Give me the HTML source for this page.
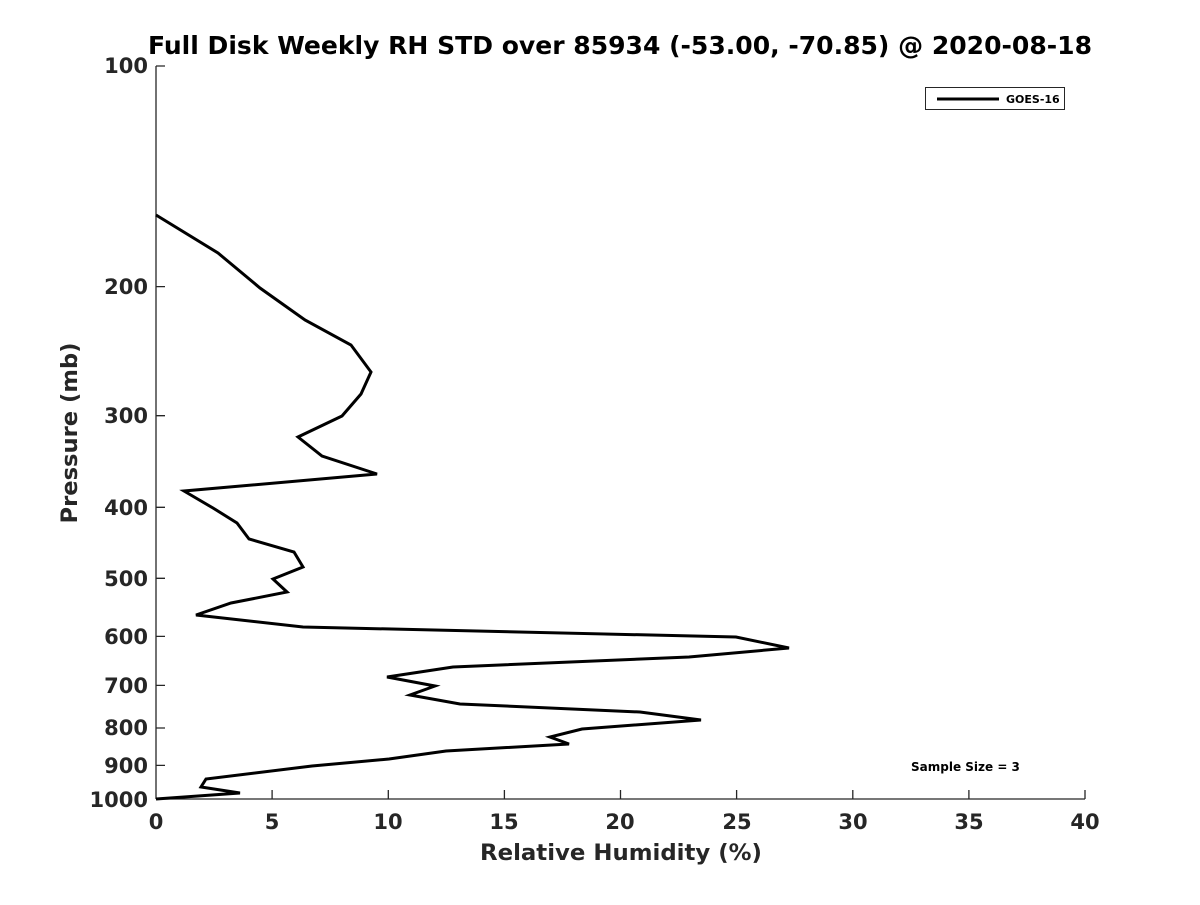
<!DOCTYPE html>
<html><head><style>body{margin:0;background:#fff}</style></head><body>
<svg width="1200" height="900" xmlns="http://www.w3.org/2000/svg" font-family="DejaVu Sans, Liberation Sans, sans-serif" font-weight="bold" fill="#262626">
<rect width="1200" height="900" fill="#fff"/>
<text x="620" y="54" font-size="25" text-anchor="middle" fill="#000" textLength="944" lengthAdjust="spacingAndGlyphs">Full Disk Weekly RH STD over 85934 (-53.00, -70.85) @ 2020-08-18</text>
<g stroke="#262626" stroke-width="1.3" fill="none">
<line x1="156" y1="66" x2="156" y2="799"/>
<line x1="156" y1="799" x2="1085" y2="799"/>
<path d="M156 66h9M156 286.6h9M156 415.7h9M156 507.3h9M156 578.3h9M156 636.4h9M156 685.4h9M156 728h9M156 765.4h9"/>
<path d="M272.1 799v-9M388.3 799v-9M504.4 799v-9M620.5 799v-9M736.6 799v-9M852.8 799v-9M968.9 799v-9M1085 799v-9"/>
</g>
<g font-size="21" text-anchor="end">
<text x="148" y="73">100</text><text x="148" y="294">200</text><text x="148" y="423">300</text><text x="148" y="515">400</text><text x="148" y="586">500</text><text x="148" y="644">600</text><text x="148" y="693">700</text><text x="148" y="735">800</text><text x="148" y="773">900</text><text x="148" y="807">1000</text>
</g>
<g font-size="21" text-anchor="middle">
<text x="156" y="829">0</text><text x="272" y="829">5</text><text x="388" y="829">10</text><text x="504" y="829">15</text><text x="620" y="829">20</text><text x="737" y="829">25</text><text x="853" y="829">30</text><text x="969" y="829">35</text><text x="1085" y="829">40</text>
</g>
<text x="621" y="860" font-size="22" text-anchor="middle" textLength="282" lengthAdjust="spacingAndGlyphs">Relative Humidity (%)</text>
<text transform="translate(77,433) rotate(-90)" font-size="22" text-anchor="middle" textLength="181" lengthAdjust="spacingAndGlyphs">Pressure (mb)</text>
<polyline fill="none" stroke="#000" stroke-width="3" stroke-linejoin="miter" points="156,215 218,253 260,288 305,320 351,345 371,372 361,394 342,416 298,437 322,456 377,474 184,491 213,508 237,523 249,539 294,552 303,567 273,579 287,592 231,603 196,615 303,627 736,637 789,648 689,657 453,667 387,677 435,686 410,695 460,704 640,712 701,720 582,729 550,737 569,744 446,751 389,759 312,766 206,779 201,787 240,793 156,799"/>
<rect x="925.5" y="87.5" width="139" height="22" fill="#fff" stroke="#262626" stroke-width="1"/>
<line x1="937" y1="99" x2="999" y2="99" stroke="#000" stroke-width="3"/>
<text x="1006" y="103" font-size="11" fill="#000">GOES-16</text>
<text x="911" y="771" font-size="12" fill="#000">Sample Size = 3</text>
</svg>
</body></html>
